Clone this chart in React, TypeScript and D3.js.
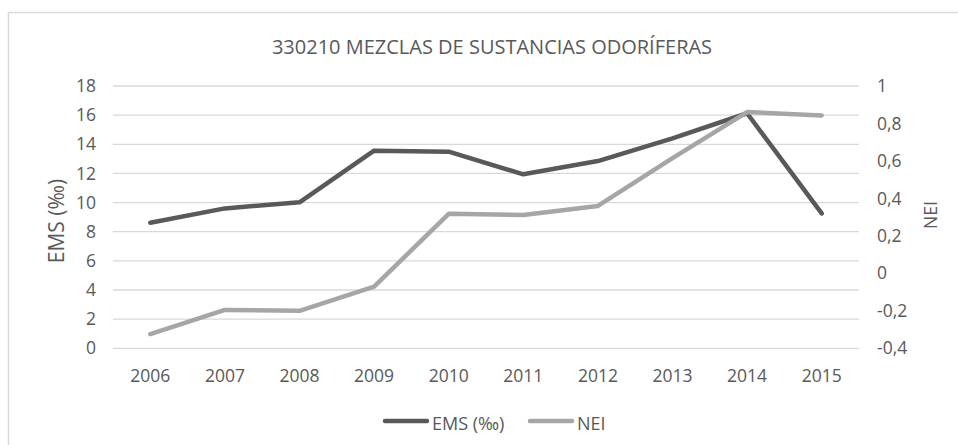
import React, { useEffect, useRef } from "react";
import * as d3 from "d3";

const years = ["2006", "2007", "2008", "2009", "2010", "2011", "2012", "2013", "2014", "2015"];
const emsValues = [8.62, 9.6, 10.02, 13.56, 13.49, 11.94, 12.85, 14.41, 16.13, 9.26];
const neiValues = [-0.324, -0.195, -0.2, -0.071, 0.318, 0.312, 0.36, 0.615, 0.861, 0.843];
const leftTicks = [0, 2, 4, 6, 8, 10, 12, 14, 16, 18];
const rightTicks = [-0.4, -0.2, 0, 0.2, 0.4, 0.6, 0.8, 1];

const W = 958;
const H = 445;
const FONT = "'Open Sans', sans-serif";
const TEXT = "#595959";
const GRID = "#d9d9d9";
const EMS_COLOR = "#595959";
const NEI_COLOR = "#a6a6a6";

export default function App() {
  const ref = useRef<SVGSVGElement>(null);

  useEffect(() => {
    const svg = d3.select(ref.current).html("");

    const left = 113, right = 859, top = 86, bottom = 348.3;

    const x = d3.scalePoint<string>().domain(years).range([left, right]).padding(0.5);
    const yL = d3.scaleLinear().domain([0, 18]).range([bottom, top]);
    const yR = d3.scaleLinear().domain([-0.4, 1]).range([bottom, top]);
    const fmt = (v: number) => String(+v.toFixed(1)).replace(".", ",");

    // chart frame
    svg.append("rect")
      .attr("x", 8.5).attr("y", 12.5)
      .attr("width", W + 20).attr("height", H + 20)
      .attr("fill", "#fff")
      .attr("stroke", GRID).attr("stroke-width", 1.5);

    // title
    svg.append("text")
      .attr("x", 492).attr("y", 54)
      .attr("text-anchor", "middle")
      .attr("font-family", FONT).attr("font-size", 20)
      .attr("fill", TEXT)
      .text("330210 MEZCLAS DE SUSTANCIAS ODORÍFERAS");

    // gridlines
    svg.append("g").selectAll("line")
      .data(leftTicks)
      .join("line")
      .attr("x1", left).attr("x2", right)
      .attr("y1", d => yL(d)).attr("y2", d => yL(d))
      .attr("stroke", GRID).attr("stroke-width", 1.3);

    // left tick labels
    svg.append("g").selectAll("text")
      .data(leftTicks)
      .join("text")
      .attr("x", 96).attr("y", d => yL(d))
      .attr("dy", "0.35em")
      .attr("text-anchor", "end")
      .attr("font-family", FONT).attr("font-size", 17.5)
      .attr("fill", TEXT)
      .text(d => d);

    // right tick labels
    svg.append("g").selectAll("text")
      .data(rightTicks)
      .join("text")
      .attr("x", 877).attr("y", d => yR(d))
      .attr("dy", "0.35em")
      .attr("text-anchor", "start")
      .attr("font-family", FONT).attr("font-size", 17.5)
      .attr("fill", TEXT)
      .text(d => fmt(d));

    // x labels
    svg.append("g").selectAll("text")
      .data(years)
      .join("text")
      .attr("x", d => x(d)!).attr("y", 382)
      .attr("text-anchor", "middle")
      .attr("font-family", FONT).attr("font-size", 17.5)
      .attr("fill", TEXT)
      .text(d => d);

    // axis titles
    svg.append("text")
      .attr("transform", "translate(64,221) rotate(-90)")
      .attr("text-anchor", "middle")
      .attr("font-family", FONT).attr("font-size", 21)
      .attr("fill", TEXT)
      .text("EMS (‰)");

    svg.append("text")
      .attr("transform", "translate(937,215) rotate(-90)")
      .attr("text-anchor", "middle")
      .attr("font-family", FONT).attr("font-size", 17.5)
      .attr("fill", TEXT)
      .text("NEI");

    // lines
    const emsLine = d3.line<number>()
      .x((_, i) => x(years[i])!)
      .y(d => yL(d));
    const neiLine = d3.line<number>()
      .x((_, i) => x(years[i])!)
      .y(d => yR(d));

    svg.append("path")
      .datum(emsValues)
      .attr("d", emsLine)
      .attr("fill", "none")
      .attr("stroke", EMS_COLOR).attr("stroke-width", 4.5)
      .attr("stroke-linejoin", "round").attr("stroke-linecap", "round");

    svg.append("path")
      .datum(neiValues)
      .attr("d", neiLine)
      .attr("fill", "none")
      .attr("stroke", NEI_COLOR).attr("stroke-width", 4.5)
      .attr("stroke-linejoin", "round").attr("stroke-linecap", "round");

    // legend
    const legend = [
      { label: "EMS (‰)", color: EMS_COLOR, x: 385 },
      { label: "NEI", color: NEI_COLOR, x: 530 },
    ];
    const lg = svg.append("g").selectAll("g")
      .data(legend)
      .join("g")
      .attr("transform", d => `translate(${d.x},421)`);
    lg.append("line")
      .attr("x1", 0).attr("x2", 42)
      .attr("stroke", d => d.color).attr("stroke-width", 4.5)
      .attr("stroke-linecap", "round");
    lg.append("text")
      .attr("x", 47).attr("y", 3)
      .attr("dy", "0.35em")
      .attr("font-family", FONT).attr("font-size", 18)
      .attr("fill", TEXT)
      .text(d => d.label);
  }, []);

  return (
    <svg
      ref={ref}
      width={W}
      height={H}
      style={{ position: "absolute", left: 0, top: 0, background: "#fff" }}
    />
  );
}
